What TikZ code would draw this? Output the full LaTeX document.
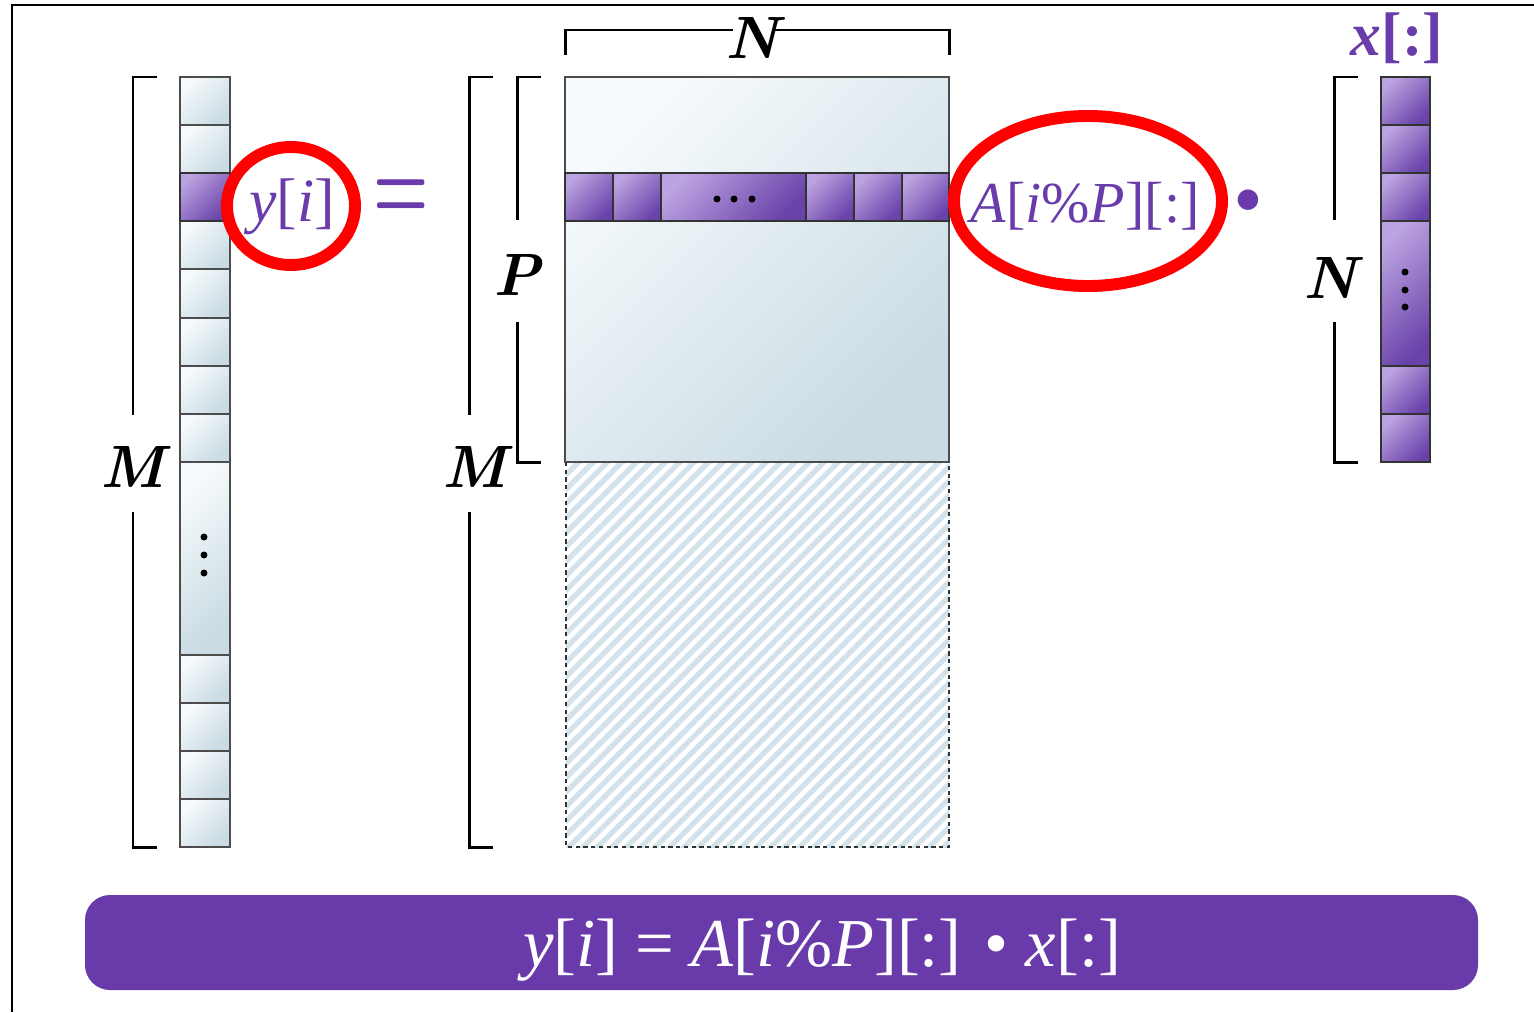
\documentclass[tikz,border=0pt]{standalone}
\usepackage{fontspec}
\newfontfamily\pfont{Liberation Serif}
\usetikzlibrary{patterns.meta}
\definecolor{purp}{HTML}{6A3BAA}
\definecolor{banner}{HTML}{693BAA}
\definecolor{lightA}{HTML}{F6FAFC}
\definecolor{lightB}{HTML}{C9DBE3}
\definecolor{purA}{HTML}{BBA2E0}
\definecolor{purB}{HTML}{6A43AA}
\definecolor{hatch}{HTML}{D3E2EA}
\definecolor{ringred}{HTML}{FF0000}
\tikzset{
  lcell/.style={draw=black!70, line width=0.6pt, top color=lightA, bottom color=lightB, shading angle=45},
  pcell/.style={draw=black!80, line width=0.6pt, top color=purA, bottom color=purB, shading angle=45},
  brk/.style={line width=0.85pt, black},
  dimlabel/.style={font=\fontsize{17}{20}\selectfont\bfseries\itshape, inner sep=0pt},
  ring/.style={draw=ringred, line width=3.4pt},
  dotmark/.style={fill=black},
  ptext/.style={text=purp, inner sep=0pt, font=\pfont\fontsize{17.5}{21}\selectfont}
}
\begin{document}
\begin{tikzpicture}[x=0.01cm,y=-0.01cm]
\useasboundingbox (0,0) rectangle (1534,1012);
% frame
\draw[line width=0.85pt] (12,1012) -- (12,5) -- (1534,5);

% left column y
\foreach \a/\b in {77/125,125/173,221/269,269/318,318/366,366/414,414/462,462/655,655/703,703/751,751/799,799/847}
  \shade[lcell] (180,\a) rectangle (230,\b);
\shade[pcell] (180,173) rectangle (230,221);
\foreach \yy in {537,555,573} \fill[dotmark] (204,\yy) circle (3.5);

% left bracket M
\node[dimlabel] (Ml) at (133,467) {M};
\draw[brk] (157,77) -- (133,77) -- (133,415);
\draw[brk] (133,512) -- (133,847) -- (157,847);

% y[i] ring and text
\draw[ring] (291,206) ellipse (64 and 59);
\node[ptext] (yi) at (292,207) {\textit{y}[\textit{i}]};
\node[text=purp, inner sep=0pt, font=\fontsize{24}{24}\selectfont\bfseries] (eq) at (401,200) {\scalebox{0.75}[1.25]{=}};

% middle brackets
\node[dimlabel] (Mm) at (475,467) {M};
\draw[brk] (493,77) -- (469,77) -- (469,415);
\draw[brk] (469,512) -- (469,847) -- (493,847);
\node[dimlabel] (Pl) at (517,275) {P};
\draw[brk] (541,77) -- (517,77) -- (517,220);
\draw[brk] (517,322) -- (517,462) -- (541,462);
\node[dimlabel] (Nt) at (752,38) {N};
\draw[brk] (565,55) -- (565,30) -- (733,30);
\draw[brk] (773,30) -- (949,30) -- (949,55);

% matrix A
\shade[lcell] (565,77) rectangle (949,462);
\path[pattern={Lines[angle=45,distance=2.9pt,line width=1.5pt]}, pattern color=hatch] (566,462) rectangle (949,847);
\draw[line width=0.6pt, dash pattern=on 1.2pt off 1pt, black!80] (566,462) -- (566,847) -- (949,847) -- (949,462);
\draw[line width=0.6pt, black!70] (565,462) -- (949,462);
\foreach \a/\b in {565/613,613/661,661/806,806/854,854/902,902/949}
  \shade[pcell] (\a,173) rectangle (\b,221);
\foreach \xx in {717,734,752} \fill[dotmark] (\xx,199) circle (3.5);

% A ring and text
\draw[ring] (1088,201) ellipse (134 and 85);
\node[ptext, font=\pfont\fontsize{16.5}{20}\selectfont] (Ai) at (1085,206) {\textit{A}[\textit{i}\%\textit{P}][:]};
\node[text=purp, inner sep=0pt, font=\fontsize{26}{26}\selectfont] (dot) at (1248,207) {\textbullet};

% right column x
\foreach \a/\b in {77/125,125/173,173/221,221/366,366/414,414/462}
  \shade[pcell] (1381,\a) rectangle (1430,\b);
\foreach \yy in {272,290,307} \fill[dotmark] (1405,\yy) circle (3.5);
\node[ptext, font=\pfont\fontsize{17.5}{21}\selectfont\bfseries] (xl) at (1397,38) {\textit{x}[:]};
\node[dimlabel] (Nr) at (1330,278) {N};
\draw[brk] (1358,77) -- (1334,77) -- (1334,220);
\draw[brk] (1334,322) -- (1334,462) -- (1358,462);

% banner
\fill[banner, rounded corners=0.25cm] (85,895) rectangle (1478,990);
\node[text=white, inner sep=0pt, font=\pfont\fontsize{19.5}{23}\selectfont] (formula) at (822,950)
  {\textit{y}[\textit{i}] = \textit{A}[\textit{i}\%\textit{P}][:] \textbullet\ \textit{x}[:]};
\end{tikzpicture}
\end{document}
